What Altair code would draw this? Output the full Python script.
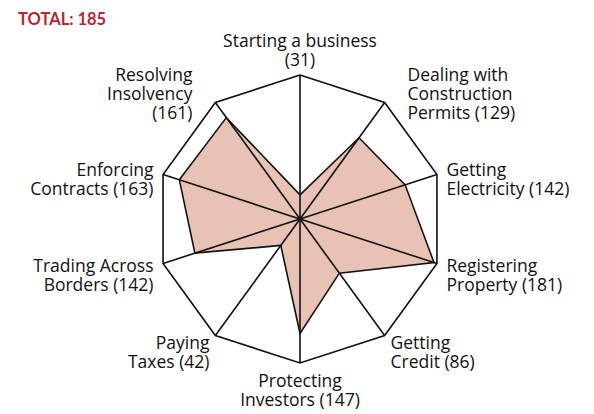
import math
import altair as alt
import pandas as pd

# ---- data ----
categories = [
    "Starting a business", "Dealing with Construction Permits", "Getting Electricity",
    "Registering Property", "Getting Credit", "Protecting Investors", "Paying Taxes",
    "Trading Across Borders", "Enforcing Contracts", "Resolving Insolvency",
]
ranks = [31, 129, 142, 181, 86, 147, 42, 142, 163, 161]
label_lines = [
    "Starting a business\n({})", "Dealing with\nConstruction\nPermits ({})", "Getting\nElectricity ({})",
    "Registering\nProperty ({})", "Getting\nCredit ({})", "Protecting\nInvestors ({})", "Paying\nTaxes ({})",
    "Trading Across\nBorders ({})", "Enforcing\nContracts ({})", "Resolving\nInsolvency\n({})",
]
total = 185
title_text = "TOTAL: 185"

# ---- layout ----
W, H = 578, 398
CX, CY = 292, 211          # centre of radar in plot px
RPX = 144                  # outer radius in px
S = RPX / total            # px per rank unit
xdom = [-CX / S, (W - CX) / S]
ydom = [-(H - CY) / S, CY / S]
n = len(categories)
FONT = "Open Sans"
LINE = "#111111"
FILL = "#e7c2b5"

rows = []
for i, (c, r) in enumerate(zip(categories, ranks)):
    a = 2 * math.pi * i / n
    lr = total + 10 / S
    side = "top" if i == 0 else "bottom" if i == n // 2 else ("right" if i < n // 2 else "left")
    rows.append(dict(
        idx=i, cat=c, rank=r,
        px=math.sin(a) * r, py=math.cos(a) * r,
        ox=math.sin(a) * total, oy=math.cos(a) * total,
        lx=math.sin(a) * lr, ly=math.cos(a) * lr,
        label=label_lines[i].format(r), side=side,
        diag=(i in (1, n - 1)),
    ))
df = pd.DataFrame(rows)
closed = pd.concat([df, df.iloc[[0]].assign(idx=n)], ignore_index=True)

xs = alt.Scale(domain=xdom, nice=False, zero=False)
ys = alt.Scale(domain=ydom, nice=False, zero=False)

base = alt.Chart(closed)

poly = base.mark_line(interpolate="linear", fill=FILL, stroke=LINE, strokeWidth=1.6, strokeJoin="miter").encode(
    x=alt.X("px:Q", scale=xs, axis=None),
    y=alt.Y("py:Q", scale=ys, axis=None),
    order=alt.Order("idx:Q"),
)

spokes = alt.Chart(df).mark_rule(color=LINE, strokeWidth=1.6).transform_calculate(zx="0", zy="0").encode(
    x=alt.X("zx:Q", scale=xs, axis=None),
    y=alt.Y("zy:Q", scale=ys, axis=None),
    x2="ox:Q", y2="oy:Q",
)

outer = base.mark_line(stroke=LINE, strokeWidth=1.6, strokeJoin="miter").encode(
    x=alt.X("ox:Q", scale=xs, axis=None),
    y=alt.Y("oy:Q", scale=ys, axis=None),
    order=alt.Order("idx:Q"),
)

def labels(filt, align, baseline, dx=0, dy=0):
    return alt.Chart(df).transform_filter(filt).mark_text(
        align=align, baseline=baseline, dx=dx, dy=dy, lineBreak="\n",
        font=FONT, fontSize=17.5, lineHeight=19, color="#111111",
    ).encode(
        x=alt.X("lx:Q", scale=xs, axis=None),
        y=alt.Y("ly:Q", scale=ys, axis=None),
        text="label:N",
    )

lab_top = labels("datum.side == 'top'", "center", "bottom", dy=-14)
lab_bot = labels("datum.side == 'bottom'", "center", "top")
lab_r_diag = labels("datum.side == 'right' && datum.diag", "left", "middle", dx=17, dy=-18)
lab_r = labels("datum.side == 'right' && !datum.diag", "left", "middle")
lab_l_diag = labels("datum.side == 'left' && datum.diag", "right", "middle", dx=-17, dy=-18)
lab_l = labels("datum.side == 'left' && !datum.diag", "right", "middle")

title = alt.Chart(pd.DataFrame({"t": [title_text]})).mark_text(
    align="left", baseline="alphabetic", font="Lato", fontSize=16.5, fontWeight="bold", color="#b8262f",
).encode(x=alt.value(10), y=alt.value(17), text="t:N")

chart = alt.layer(poly, spokes, outer, lab_top, lab_bot, lab_r_diag, lab_r, lab_l_diag, lab_l, title).properties(
    width=W, height=H, padding=0, background="white",
).configure_view(stroke=None)

chart.save("out.html", embed_options={"renderer": "svg", "actions": False})
